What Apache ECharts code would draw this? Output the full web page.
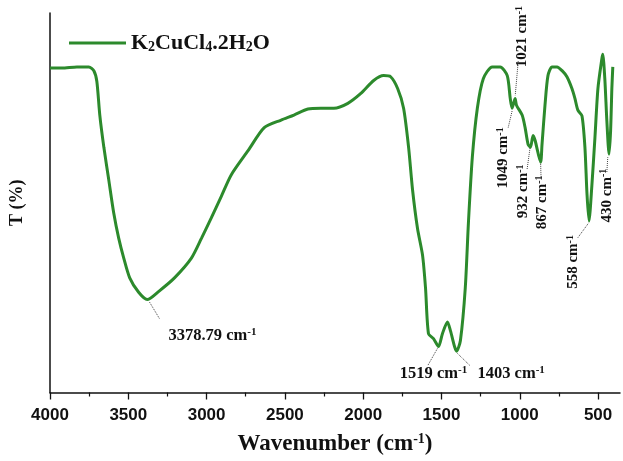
<!DOCTYPE html>
<html>
<head>
<meta charset="utf-8">
<script src="https://cdn.jsdelivr.net/npm/echarts@6/dist/echarts.min.js"></script>
<style>
html, body { margin: 0; padding: 0; background: #fff; }
#main { width: 623px; height: 461px; }
</style>
</head>
<body>
<div id="main"></div>
<script>
// IR spectrum (cm-1 / relative T)
const wavenumber = [4000, 3924, 3828, 3752, 3720, 3701, 3682, 3656, 3625, 3593, 3561, 3529, 3491, 3434, 3379, 3307, 3205, 3097, 3033, 2970,
  2906, 2842, 2734, 2632, 2524, 2442, 2353, 2270, 2187, 2098, 2015, 1933, 1869, 1825, 1780, 1742, 1710, 1685, 1653, 1621,
  1602, 1583, 1551, 1519, 1494, 1462, 1443, 1403, 1379, 1348, 1328, 1303, 1271, 1233, 1176, 1125, 1080, 1061, 1049, 1030,
  1021, 985, 966, 947, 932, 915, 902, 867, 858, 839, 820, 794, 762, 730, 699, 667, 648, 629, 603, 584,
  571, 558, 540, 520, 501, 476, 470, 457, 444, 430, 420, 412, 406]
const transmittance = [85.5, 85.5, 85.8, 85.8, 84.8, 82.0, 73.1, 64.6, 56.1, 47.3, 40.6, 35.4, 30.2, 26.4, 24.5, 26.6, 30.2, 35.4, 40.6, 46.0,
  51.7, 57.4, 63.8, 69.8, 71.8, 73.1, 74.7, 74.9, 74.9, 76.2, 78.8, 82.2, 83.5, 83.2, 80.1, 74.9, 64.6, 53.5, 43.2, 36.2,
  27.6, 15.5, 14.2, 12.1, 15.5, 18.6, 16.3, 10.9, 13.7, 27.6, 44.7, 62.0, 74.9, 82.7, 85.8, 85.8, 83.5, 77.5, 74.9, 77.5,
  75.7, 73.1, 69.8, 65.4, 64.6, 67.7, 66.4, 60.7, 65.4, 75.7, 83.5, 85.8, 85.8, 84.8, 83.2, 80.1, 77.5, 74.4, 72.9, 64.6,
  52.5, 45.2, 54.3, 67.2, 80.1, 87.9, 89.1, 82.7, 71.6, 62.8, 69.0, 80.1, 85.8]

// peak annotations
const peakText = ['3378.79', '1519', '1403', '1049', '1021', '932', '867', '558', '430']
const peakTextX = [2963, 1551, 1055, 1106, 985, 979, 858, 660, 444]
const peakTextY = [15.0, 4.9, 4.9, 61.8, 93.8, 53.0, 50.1, 34.4, 51.9]
const peakTextRotate = [0, 0, 0, 90, 90, 90, 90, 90, 90]
const leaderFrom = [[3364, 23.8], [1526, 11.6], [1398, 10.3], [1074, 69.8], [1010, 87.3], [953, 58.9], [864, 56.3], [629, 40.8], [444, 58.1]]
const leaderTo = [[3300, 19.4], [1589, 7.0], [1316, 7.0], [1049, 74.2], [1029, 78.3], [934, 64.6], [867, 60.5], [560, 44.7], [438, 62.0]]

const xTicks = [500, 1000, 1500, 2000, 2500, 3000, 3500, 4000]
const xMinorTicks = [750, 1250, 1750, 2250, 2750, 3250, 3750]

const seriesName = 'K2CuCl4.2H2O'

const chart = echarts.init(document.getElementById('main'), null, { renderer: 'canvas' })

const spectrum = wavenumber.map((w, i) => [w, transmittance[i]])

const serif = 'Liberation Serif'
const sansBold = 'Liberation Sans'

// rich styles for "xxx cm-1"
const labelRich = (size) => ({
  m: { fontFamily: serif, fontWeight: 'bold', fontSize: size, color: '#111', lineHeight: size + 1 },
  s: { fontFamily: serif, fontWeight: 'bold', fontSize: Math.round(size * 0.65), color: '#111', lineHeight: 7, verticalAlign: 'top' }
})

const labels = peakText.map((t, i) => ({
  value: [peakTextX[i], peakTextY[i]],
  name: t,
  label: { rotate: peakTextRotate[i], rich: labelRich(peakTextRotate[i] ? 15 : 16.5) }
}))

const option = {
  backgroundColor: '#fff',
  animation: false,
  grid: {
    left: 48,
    right: 3,
    top: 13,
    bottom: 61
  },
  legend: {
    left: 64,
    top: 27,
    icon: 'rect',
    itemWidth: 57,
    itemHeight: 3,
    itemGap: 5,
    data: [seriesName],
    formatter: () => '{m|K}{s|2}{m|CuCl}{s|4}{m|.2H}{s|2}{m|O}',
    textStyle: {
      rich: {
        m: { fontFamily: serif, fontWeight: 'bold', fontSize: 22, color: '#111', lineHeight: 22 },
        s: { fontFamily: serif, fontWeight: 'bold', fontSize: 14, color: '#111', lineHeight: 8, verticalAlign: 'bottom' }
      }
    }
  },
  xAxis: [{
    type: 'value',
    inverse: true,
    min: 360,
    max: 4000,
    position: 'bottom',
    name: '{m|Wavenumber (cm}{s|-1}{m|)}',
    nameLocation: 'middle',
    nameGap: 40,
    nameTextStyle: {
      rich: {
        m: { fontFamily: serif, fontWeight: 'bold', fontSize: 23, color: '#111', lineHeight: 24 },
        s: { fontFamily: serif, fontWeight: 'bold', fontSize: 14, color: '#111', lineHeight: 10, verticalAlign: 'top' }
      }
    },
    splitLine: { show: false },
    axisLine: { lineStyle: { color: '#111', width: 1.5 } },
    axisTick: { customValues: xTicks, length: 7, lineStyle: { color: '#111', width: 1.3 } },
    axisLabel: {
      customValues: xTicks,
      formatter: v => String(v),
      margin: 14,
      fontFamily: sansBold,
      fontWeight: 'bold',
      fontSize: 17,
      color: '#111'
    }
  }, {
    type: 'value',
    inverse: true,
    min: 360,
    max: 4000,
    position: 'bottom',
    splitLine: { show: false },
    axisLine: { show: false },
    axisLabel: { show: false },
    axisTick: { customValues: xMinorTicks, length: 4, lineStyle: { color: '#111', width: 1.2 } }
  }],
  yAxis: {
    type: 'value',
    min: 0,
    max: 100,
    name: 'T (%)',
    nameLocation: 'middle',
    nameGap: 24,
    nameRotate: 90,
    nameTextStyle: { fontFamily: serif, fontWeight: 'bold', fontSize: 18, color: '#111' },
    splitLine: { show: false },
    axisLine: { show: true, lineStyle: { color: '#111', width: 1.5 } },
    axisTick: { show: false },
    axisLabel: { show: false }
  },
  series: [{
    name: seriesName,
    type: 'line',
    data: spectrum,
    symbol: 'none',
    smooth: 0.25,
    lineStyle: { color: '#2c8a2c', width: 3 },
    itemStyle: { color: '#2c8a2c' }
  }, {
    name: 'peaks',
    type: 'scatter',
    symbolSize: 0,
    silent: true,
    itemStyle: { opacity: 1 },
    data: labels,
    label: {
      show: true,
      position: 'inside',
      color: '#111',
      formatter: p => '{m|' + p.name + ' cm}{s|-1}'
    },
    markLine: {
      silent: true,
      symbol: 'none',
      label: { show: false },
      lineStyle: { color: '#444', type: 'dotted', width: 1, opacity: 1 },
      data: leaderFrom.map((f, i) => [{ coord: f }, { coord: leaderTo[i] }])
    }
  }]
}

chart.setOption(option)
</script>
</body>
</html>
